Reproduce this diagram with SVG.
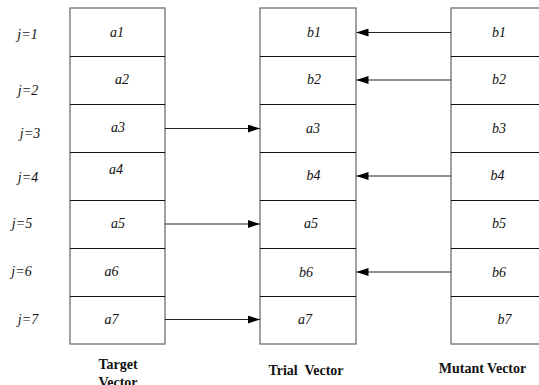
<svg xmlns="http://www.w3.org/2000/svg" width="539" height="385" viewBox="0 0 539 385">
<defs>
<style>
.box{fill:#fff;stroke:#7a7a7a;stroke-width:1.4}
.row{stroke:#111;stroke-width:1}
.t{font-family:"Liberation Serif","Times New Roman",serif;font-size:14px;font-style:italic;fill:#111;text-anchor:middle}
.h{font-family:"Liberation Serif","Times New Roman",serif;font-size:14px;font-weight:bold;fill:#111;text-anchor:middle;white-space:pre}
.c{stroke:#222;stroke-width:1.2;fill:none}
</style>
<marker id="ah" viewBox="0 0 12 8" refX="12" refY="4" markerWidth="12" markerHeight="8" markerUnits="userSpaceOnUse" orient="auto">
<path d="M0,0 L12,4 L0,8 Z" fill="#000"/>
</marker>
</defs>
<g id="index-labels">
<text class="t" x="27.5" y="39">j=1</text>
<text class="t" x="28" y="95">j=2</text>
<text class="t" x="30" y="137.5">j=3</text>
<text class="t" x="28" y="181.5">j=4</text>
<text class="t" x="22" y="228">j=5</text>
<text class="t" x="21.5" y="276">j=6</text>
<text class="t" x="28" y="324">j=7</text>
</g>
<g id="target-vector">
<rect class="box" x="70" y="8" width="95" height="336"/>
<line class="row" x1="70" y1="56.5" x2="165" y2="56.5"/>
<line class="row" x1="70" y1="104.5" x2="165" y2="104.5"/>
<line class="row" x1="70" y1="152.5" x2="165" y2="152.5"/>
<line class="row" x1="70" y1="200.5" x2="165" y2="200.5"/>
<line class="row" x1="70" y1="248.5" x2="165" y2="248.5"/>
<line class="row" x1="70" y1="296.5" x2="165" y2="296.5"/>
<text class="t" x="117" y="36.5">a1</text>
<text class="t" x="122" y="84">a2</text>
<text class="t" x="118" y="131.5">a3</text>
<text class="t" x="116" y="174">a4</text>
<text class="t" x="118" y="228">a5</text>
<text class="t" x="111.5" y="276">a6</text>
<text class="t" x="111.5" y="324">a7</text>
<text class="h" x="118" y="369">Target</text>
<text class="h" x="118" y="387">Vector</text>
</g>
<g id="trial-vector">
<rect class="box" x="260" y="8" width="96" height="336"/>
<line class="row" x1="260" y1="56.5" x2="356" y2="56.5"/>
<line class="row" x1="260" y1="104.5" x2="356" y2="104.5"/>
<line class="row" x1="260" y1="152.5" x2="356" y2="152.5"/>
<line class="row" x1="260" y1="200.5" x2="356" y2="200.5"/>
<line class="row" x1="260" y1="248.5" x2="356" y2="248.5"/>
<line class="row" x1="260" y1="296.5" x2="356" y2="296.5"/>
<text class="t" x="314" y="36.5">b1</text>
<text class="t" x="314" y="84">b2</text>
<text class="t" x="313" y="132.5">a3</text>
<text class="t" x="313.5" y="180">b4</text>
<text class="t" x="311" y="228">a5</text>
<text class="t" x="306" y="276.5">b6</text>
<text class="t" x="305" y="324">a7</text>
<text class="h" x="306" y="375">Trial  Vector</text>
</g>
<g id="mutant-vector">
<rect class="box" x="451" y="8" width="100" height="336"/>
<line class="row" x1="451" y1="56.5" x2="539" y2="56.5"/>
<line class="row" x1="451" y1="104.5" x2="539" y2="104.5"/>
<line class="row" x1="451" y1="152.5" x2="539" y2="152.5"/>
<line class="row" x1="451" y1="200.5" x2="539" y2="200.5"/>
<line class="row" x1="451" y1="248.5" x2="539" y2="248.5"/>
<line class="row" x1="451" y1="296.5" x2="539" y2="296.5"/>
<text class="t" x="499" y="36.5">b1</text>
<text class="t" x="499" y="84">b2</text>
<text class="t" x="499" y="132.5">b3</text>
<text class="t" x="497.5" y="180">b4</text>
<text class="t" x="499" y="228">b5</text>
<text class="t" x="499" y="276.5">b6</text>
<text class="t" x="504.5" y="324">b7</text>
<text class="h" x="482.5" y="372.5">Mutant Vector</text>
</g>
<g id="connectors">
<line class="c" x1="165" y1="128.5" x2="260" y2="128.5" marker-end="url(#ah)"/>
<line class="c" x1="165" y1="224" x2="260" y2="224" marker-end="url(#ah)"/>
<line class="c" x1="165" y1="319.5" x2="260" y2="319.5" marker-end="url(#ah)"/>
<line class="c" x1="451" y1="32.5" x2="356.5" y2="32.5" marker-end="url(#ah)"/>
<line class="c" x1="451" y1="80" x2="356.5" y2="80" marker-end="url(#ah)"/>
<line class="c" x1="451" y1="176" x2="356.5" y2="176" marker-end="url(#ah)"/>
<line class="c" x1="451" y1="272" x2="356.5" y2="272" marker-end="url(#ah)"/>
</g>
</svg>
